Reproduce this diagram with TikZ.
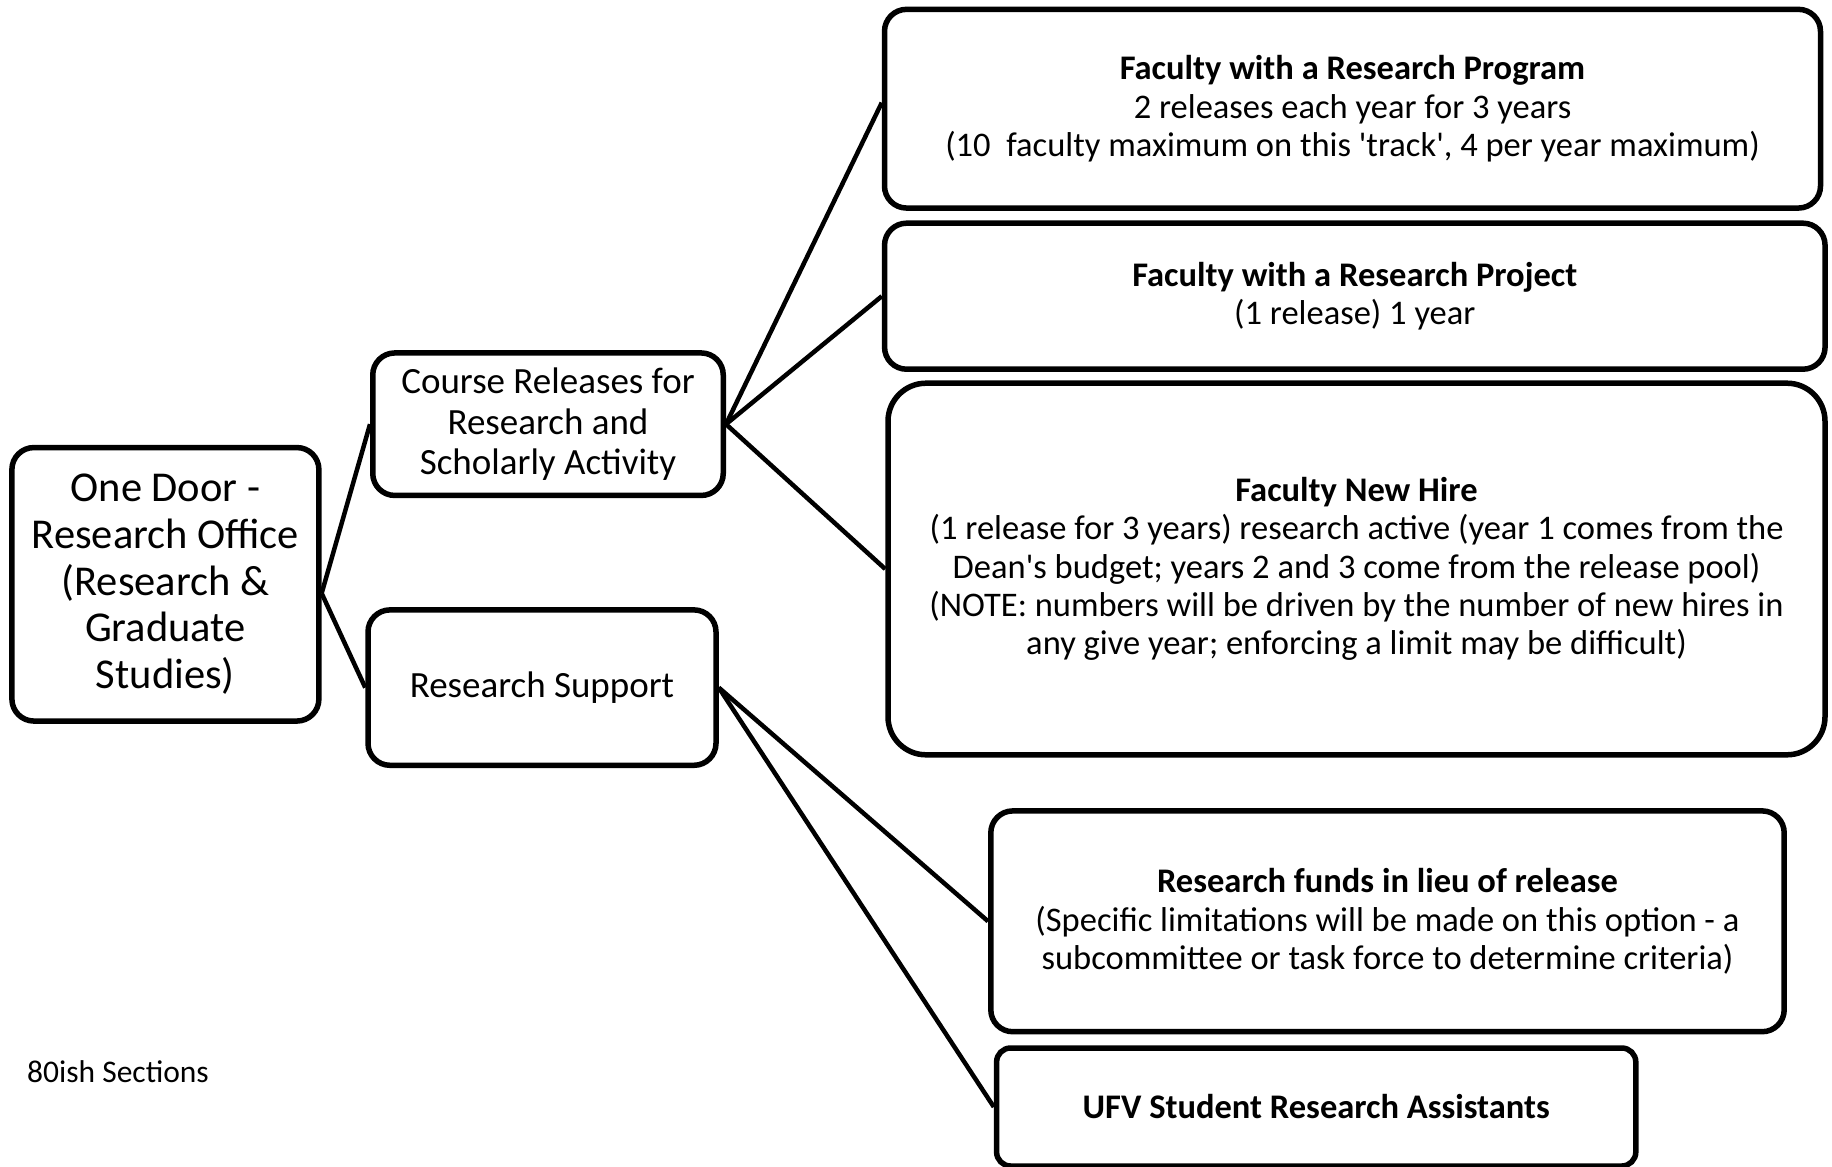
\documentclass[tikz,border=0pt]{standalone}
\usepackage{fontspec}
\setmainfont{Carlito}
\newcommand{\sq}{\textquotesingle}
\begin{document}
\begin{tikzpicture}[x=1pt,y=-1pt,
  box/.style={draw,line width=5.5pt,rounded corners=22pt,align=center,inner sep=0pt,fill=white},
  bigtxt/.style={font=\fontsize{42.5}{46.7}\selectfont},
  midtxt/.style={font=\fontsize{37}{40.3}\selectfont},
  smalltxt/.style={font=\fontsize{34.5}{38.3}\selectfont},
  conn/.style={line width=4.5pt}]
\useasboundingbox (0,0) rectangle (1832,1167);
\fill[white] (0,0) rectangle (1832,1167);

\node[box,bigtxt,minimum width=307pt,minimum height=273.5pt] (od) at (165.4,584.3)
  {One Door -\\Research Office\\(Research \&\\Graduate\\Studies)};
\node[box,midtxt,minimum width=350.5pt,minimum height=142.5pt] (cr) at (548,424.2)
  {Course Releases for\\Research and\\Scholarly Activity};
\node[box,midtxt,minimum width=348pt,minimum height=155.4pt] (rs) at (542,687.6)
  {Research Support};

\node[box,smalltxt,minimum width=936pt,minimum height=198.7pt] (p1) at (1352.5,108.7)
  {\textbf{Faculty with a Research Program}\\2 releases each year for 3 years\\(10\ \ faculty maximum on this \sq track\sq, 4 per year maximum)};
\node[box,smalltxt,minimum width=940.5pt,minimum height=146pt] (p2) at (1354.8,296.2)
  {\textbf{Faculty with a Research Project}\\(1 release) 1 year};
\node[box,smalltxt,rounded corners=38pt,minimum width=937pt,minimum height=371.6pt] (p3) at (1356.5,569)
  {\textbf{Faculty New Hire}\\(1 release for 3 years) research active (year 1 comes from the\\Dean\sq s budget; years 2 and 3 come from the release pool)\\(NOTE: numbers will be driven by the number of new hires in\\any give year; enforcing a limit may be difficult)};

\node[box,smalltxt,minimum width=793.4pt,minimum height=220.8pt] (f1) at (1387.5,921.3)
  {\textbf{Research funds in lieu of release}\\(Specific limitations will be made on this option - a\\subcommittee or task force to determine criteria)};
\node[box,smalltxt,rounded corners=14pt,minimum width=639.2pt,minimum height=118pt] (f2) at (1316.2,1107)
  {\textbf{UFV Student Research Assistants}};

\node[font=\fontsize{31.5}{36}\selectfont,anchor=west,inner sep=0pt] (note) at (27,1072) {80ish Sections};

\draw[conn] ([yshift=-9pt]od.east) -- (cr.west);
\draw[conn] ([yshift=-9pt]od.east) -- (rs.west);
\draw[conn] (cr.east) -- ([yshift=6pt]p1.west);
\draw[conn] (cr.east) -- (p2.west);
\draw[conn] (cr.east) -- (p3.west);
\draw[conn] (rs.east) -- (f1.west);
\draw[conn] (rs.east) -- (f2.west);
\end{tikzpicture}
\end{document}
